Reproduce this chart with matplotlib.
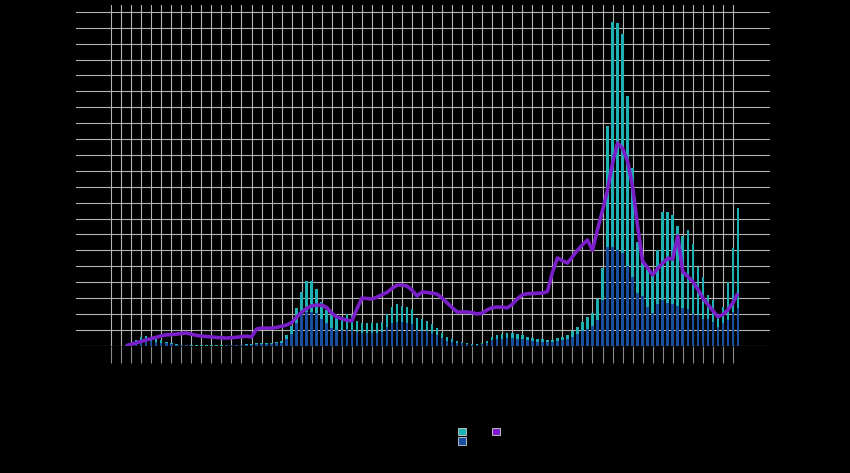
import numpy as np
import matplotlib
matplotlib.use("Agg")
import matplotlib.pyplot as plt
from matplotlib.patches import Patch
from matplotlib.ticker import FixedLocator

# ---- data ----
first_period = 3
teal_vals = [0.05, 0.15, 0.36, 0.57, 0.61, 0.53, 0.46, 0.36, 0.25, 0.15, 0.10, 0.06,
             0.03, 0.02, 0.02, 0.02, 0.02, 0.02, 0.02, 0.02, 0.03, 0.03, 0.04, 0.05, 0.08,
             0.12, 0.19, 0.15, 0.19, 0.19, 0.25, 0.31, 0.67, 1.24, 2.35,
             3.4, 4.07, 4.07, 3.55, 2.77, 2.25, 1.93, 1.72, 1.72, 2.0,
             1.93, 1.57, 1.41, 1.41, 1.41, 1.41, 1.51, 2.0, 2.41, 2.62,
             2.5, 2.45, 2.29, 1.72, 1.66, 1.57, 1.36, 1.09, 0.78, 0.53,
             0.40, 0.31, 0.25, 0.15, 0.10, 0.10, 0.15, 0.31, 0.57, 0.67,
             0.73, 0.78, 0.78, 0.73, 0.67, 0.57, 0.46, 0.40, 0.40, 0.36,
             0.36, 0.46, 0.57, 0.67, 0.94, 1.2, 1.51, 1.78, 2.04, 2.92,
             4.9, 13.8, 20.35, 20.3, 19.6, 15.7, 11.2, 6.5, 5.5, 4.8,
             4.5, 6.0, 8.4, 8.4, 8.2, 7.5, 6.9, 7.3, 6.4, 4.97,
             4.34, 3.19, 2.87, 1.72, 2.45, 4.03, 6.13, 8.64]
blue_vals = [0.02, 0.08, 0.2, 0.32, 0.35, 0.3, 0.26, 0.2, 0.14, 0.09, 0.06, 0.04,
             0.02, 0.01, 0.01, 0.01, 0.01, 0.01, 0.01, 0.01, 0.02, 0.02, 0.02, 0.03, 0.05,
             0.07, 0.11, 0.09, 0.11, 0.11, 0.15, 0.19, 0.4, 0.75, 1.4,
             2.0, 2.14, 2.14, 2.05, 1.7, 1.43, 1.1, 1.0, 1.0, 1.05,
             1.0, 0.85, 0.8, 0.8, 0.8, 0.8, 0.85, 1.15, 1.4, 1.5,
             1.5, 1.45, 1.35, 1.0, 0.95, 0.9, 0.8, 0.65, 0.47, 0.32,
             0.24, 0.19, 0.15, 0.09, 0.06, 0.06, 0.09, 0.19, 0.34, 0.4,
             0.44, 0.47, 0.47, 0.44, 0.4, 0.34, 0.28, 0.24, 0.24, 0.22,
             0.22, 0.28, 0.34, 0.4, 0.56, 0.72, 0.9, 1.07, 1.22, 1.6,
             2.9, 6.2, 6.2, 6.0, 5.8, 5.0, 4.3, 3.3, 3.1, 2.45,
             2.05, 2.6, 2.9, 2.7, 2.6, 2.5, 2.4, 2.3, 2.0, 1.9,
             1.7, 1.7, 1.5, 1.2, 1.4, 1.6, 2.1, 2.4]
line_vals = [0.0, 0.09, 0.18, 0.27, 0.36, 0.45, 0.53, 0.62, 0.68, 0.7, 0.73, 0.77,
             0.8, 0.72, 0.65, 0.6, 0.58, 0.55, 0.52, 0.5, 0.48, 0.5, 0.53, 0.57, 0.6,
             0.55, 1.05, 1.11, 1.1, 1.11, 1.15, 1.22, 1.3, 1.45, 1.8,
             2.1, 2.35, 2.5, 2.56, 2.55, 2.4, 2.05, 1.8, 1.7, 1.6,
             1.55, 2.3, 3.0, 2.97, 2.94, 3.05, 3.2, 3.35, 3.6, 3.8,
             3.82, 3.75, 3.5, 3.13, 3.38, 3.35, 3.3, 3.25, 3.0, 2.7,
             2.4, 2.12, 2.12, 2.12, 2.08, 2.0, 2.05, 2.25, 2.4, 2.43,
             2.42, 2.38, 2.6, 2.95, 3.2, 3.27, 3.28, 3.3, 3.31, 3.4,
             4.6, 5.52, 5.35, 5.2, 5.6, 6.0, 6.35, 6.65, 6.0, 7.3,
             8.5, 9.8, 11.5, 12.75, 12.4, 11.6, 10.0, 7.5, 5.3, 4.9,
             4.45, 4.85, 5.2, 5.5, 5.45, 6.9, 4.65, 4.35, 4.03, 3.55,
             3.0, 2.6, 2.2, 1.82, 1.95, 2.25, 2.69, 3.3]
series_labels = ["New", "Old", "Avg"]

# ---- styling ----
BG = "#000000"
TEAL = "#1fb0b4"
BLUE = "#184f9e"
PURPLE = "#7a1fc9"
GRID = "#b4b4b4"

x = first_period + np.arange(len(teal_vals))

fig = plt.figure(figsize=(8.5, 4.73), dpi=100, facecolor=BG)
ax = fig.add_axes([76 / 850, 127.3 / 473, 694 / 850, 340.7 / 473], facecolor=BG)

ax.set_axisbelow(True)
ax.grid(True, color=GRID, lw=0.8)
ax.bar(x, teal_vals, width=0.5, color=TEAL, zorder=2, linewidth=0)
ax.bar(x, blue_vals, width=0.5, color=BLUE, zorder=2.1, linewidth=0)
ax.plot(x, line_vals, color=PURPLE, lw=2.6, zorder=3, solid_joinstyle="round",
        solid_capstyle="butt")

ax.set_xlim(-7, 131.4)
ax.set_ylim(0, 21.43)
ax.xaxis.set_major_locator(FixedLocator(np.arange(0, 125, 2)))
ax.yaxis.set_major_locator(FixedLocator(np.arange(0, 22, 1)))
ax.tick_params(axis="x", length=12, width=0.8, color="#8a8a8a", direction="out",
               labelbottom=False)
ax.tick_params(axis="y", length=0, labelleft=False)
for s in ax.spines.values():
    s.set_visible(False)

handles = [Patch(facecolor=TEAL, edgecolor="#cfcfcf", lw=0.6),
           Patch(facecolor=BLUE, edgecolor="#cfcfcf", lw=0.6),
           Patch(facecolor=PURPLE, edgecolor="#cfcfcf", lw=0.6)]
leg = fig.legend(handles, series_labels, loc="upper left",
                 bbox_to_anchor=(458 / 850, 1 - 427 / 473), ncol=2, frameon=False,
                 fontsize=6, handlelength=0.95, handleheight=0.95, handletextpad=0.4,
                 labelspacing=0.1, columnspacing=0.55, borderpad=0, borderaxespad=0)
for t in leg.get_texts():
    t.set_color(BG)

fig.savefig("out.png", dpi=100, facecolor=BG)
